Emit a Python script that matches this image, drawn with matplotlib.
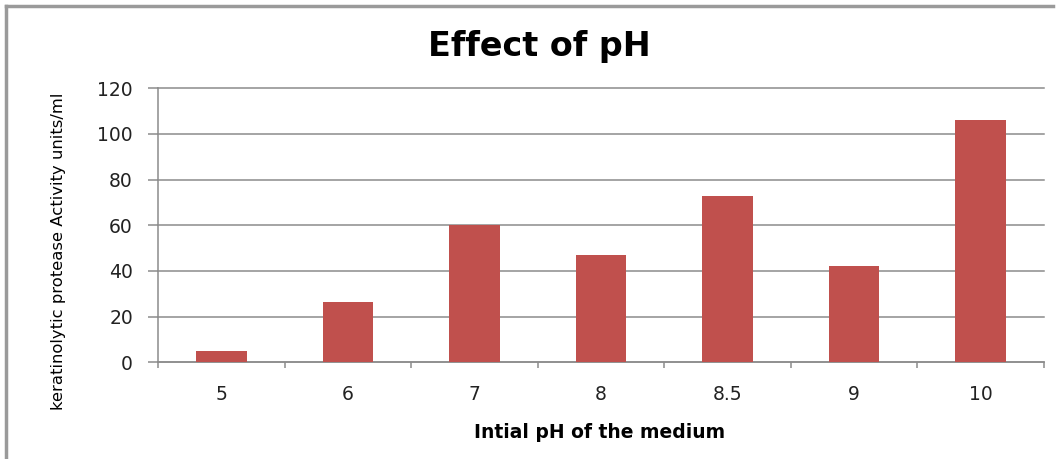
import matplotlib.pyplot as plt
import numpy as np

# values
ph_labels = ['5', '6', '7', '8', '8.5', '9', '10']
activity = [5, 26.4, 60, 47, 73, 42.2, 106.1]

W, H = 1063, 459
fig = plt.figure(figsize=(W / 100, H / 100), dpi=100)
ax = fig.add_axes([158 / W, 1 - 362.3 / H, (1044 - 158) / W, (362.3 - 88.3) / H])

x = np.arange(len(ph_labels))
ax.bar(x, activity, width=0.4, color='#C0504D', zorder=3)

ax.set_xlim(-0.5, len(ph_labels) - 0.5)
ax.set_ylim(0, 120)
ax.set_yticks(range(0, 121, 20))
ax.yaxis.grid(True, color='#8c8c8c', linewidth=1.1, zorder=0)
for gl in ax.get_ygridlines():
    gl.set_clip_on(False)

ax.set_xticks(x)
ax.set_xticklabels(ph_labels, fontsize=13.5, color='#222222')
ax.set_xticks(np.arange(-0.5, len(ph_labels)), minor=True)
ax.tick_params(axis='x', which='major', length=0, pad=16)
ax.tick_params(axis='x', which='minor', length=4.5, color='#8c8c8c', width=1.1)
ax.tick_params(axis='y', length=7, color='#8c8c8c', width=1.1, pad=11,
               labelsize=13.5, labelcolor='#222222')

for s in ['top', 'right']:
    ax.spines[s].set_visible(False)
for s in ['left', 'bottom']:
    ax.spines[s].set_color('#8c8c8c')
    ax.spines[s].set_linewidth(1.1)

fig.text(539 / W, 1 - 55.7 / H, 'Effect of pH', fontweight='bold',
         fontsize=24, ha='center', va='baseline')
fig.text(600 / W, 1 - 437.7 / H, 'Intial pH of the medium',
         fontweight='bold', fontsize=13.5, ha='center', va='baseline')
fig.text(58 / W, 1 - 251.5 / H, 'keratinolytic protease Activity units/ml',
         fontsize=11.8, rotation=90, ha='center', va='center')

# chart frame
fig.add_artist(plt.Line2D([6 / W, 1053 / W], [1 - 6 / H, 1 - 6 / H], color='#9a9a9a', linewidth=2.5))
fig.add_artist(plt.Line2D([6 / W, 6 / W], [1 - 6 / H, 0], color='#9a9a9a', linewidth=2.5))

fig.savefig('out.png', dpi=100)
